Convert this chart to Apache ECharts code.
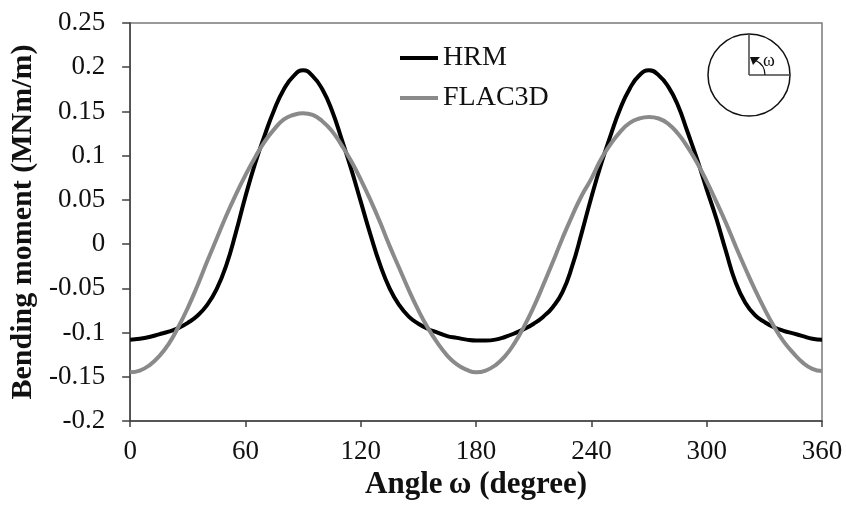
<!DOCTYPE html>
<html>
<head>
<meta charset="utf-8">
<script src="https://cdn.jsdelivr.net/npm/echarts@6/dist/echarts.min.js"></script>
<style>
  html, body { margin: 0; padding: 0; background: #fff; }
  #chart { width: 846px; height: 518px; }
</style>
</head>
<body>
<div id="chart"></div>
<script>
  // angle (degree)
  var angles = [0, 5, 10, 15, 20, 25, 30, 35, 40, 45, 50, 55, 60, 65, 70, 75, 80, 85, 90,
    95, 100, 105, 110, 115, 120, 125, 130, 135, 140, 145, 150, 155, 160, 165, 170, 175, 180,
    185, 190, 195, 200, 205, 210, 215, 220, 225, 230, 235, 240, 245, 250, 255, 260, 265, 270,
    275, 280, 285, 290, 295, 300, 305, 310, 315, 320, 325, 330, 335, 340, 345, 350, 355, 360];

  var hrm = [-0.108, -0.107, -0.105, -0.102, -0.099, -0.095, -0.089, -0.081, -0.069, -0.051,
    -0.024, 0.013, 0.054, 0.091, 0.123, 0.152, 0.175, 0.190, 0.1965,
    0.190, 0.175, 0.151, 0.119, 0.085, 0.048, 0.011, -0.023, -0.050, -0.069, -0.082, -0.090,
    -0.096, -0.100, -0.104, -0.106, -0.108, -0.109,
    -0.109, -0.108, -0.105, -0.101, -0.096, -0.090, -0.082, -0.071, -0.054, -0.025, 0.013,
    0.053, 0.090, 0.123, 0.153, 0.176, 0.191, 0.1965,
    0.191, 0.178, 0.157, 0.127, 0.096, 0.062, 0.029, -0.008, -0.043, -0.066, -0.080, -0.088,
    -0.094, -0.098, -0.101, -0.104, -0.107, -0.108];

  var flac3d = [-0.145, -0.143, -0.137, -0.127, -0.113, -0.094, -0.072, -0.047, -0.020, 0.006,
    0.032, 0.056, 0.078, 0.098, 0.116, 0.130, 0.141, 0.146, 0.148,
    0.146, 0.139, 0.128, 0.112, 0.094, 0.073, 0.050, 0.025, -0.002, -0.027, -0.052, -0.075,
    -0.095, -0.112, -0.126, -0.136, -0.142, -0.145,
    -0.143, -0.137, -0.127, -0.112, -0.093, -0.071, -0.046, -0.020, 0.007, 0.032, 0.055,
    0.074, 0.096, 0.113, 0.127, 0.137, 0.142, 0.1437,
    0.142, 0.136, 0.125, 0.110, 0.092, 0.071, 0.048, 0.024, -0.002, -0.027, -0.051, -0.073,
    -0.093, -0.110, -0.123, -0.134, -0.141, -0.1435];

  var serif = '"Liberation Serif", "Times New Roman", serif';

  function pairs(vals){
    var out = [];
    for (var i = 0; i < angles.length; i++) {
      out.push([angles[i], vals[i]]);
    }
    return out;
  }

  var myChart = echarts.init(document.getElementById("chart"), null, {renderer: 'canvas'});

  var option = {
    backgroundColor: '#fff',
    animation: false,
    grid: {
      left: 129, right: 24, top: 23, bottom: 97,
      show: true,
      borderColor: '#7a7a7a',
      borderWidth: 1.5
    },
    legend: {
      orient: 'vertical',
      left: 400,
      top: 44,
      padding: 0,
      icon: 'rect',
      itemWidth: 38,
      itemHeight: 4,
      itemGap: 12,
      textStyle: {fontFamily: serif, fontSize: 28, color: '#111', lineHeight: 28, padding: [0, 0, 0, 0]},
      data: ['HRM', 'FLAC3D']
    },
    xAxis: {
      type: 'value',
      min: 0, max: 360, interval: 60,
      name: 'Angle\u2009ω (degree)',
      nameLocation: 'middle',
      nameGap: 40,
      nameTextStyle: {fontFamily: serif, fontSize: 31, fontWeight: 'bold', color: '#111'},
      axisLine: {onZero: false, lineStyle: {color: '#404040', width: 1.5}},
      axisTick: {inside: false, length: 6, lineStyle: {color: '#404040', width: 1.5}},
      axisLabel: {fontFamily: serif, fontSize: 27, color: '#111', margin: 17},
      splitLine: {show: false}
    },
    yAxis: {
      type: 'value',
      min: -0.2, max: 0.25, interval: 0.05,
      name: 'Bending moment (MNm/m)',
      nameLocation: 'middle',
      nameRotate: 90,
      nameGap: 82,
      nameTextStyle: {fontFamily: serif, fontSize: 30, fontWeight: 'bold', color: '#111'},
      axisLine: {show: true, onZero: false, lineStyle: {color: '#404040', width: 1.5}},
      axisTick: {show: true, inside: false, length: 8, lineStyle: {color: '#404040', width: 1.5}},
      axisLabel: {
        fontFamily: serif, fontSize: 27, color: '#111', margin: 25,
        formatter: function (v) { return String(Math.round(v * 100) / 100); }
      },
      splitLine: {show: false}
    },
    series: [
      {
        name: 'HRM',
        type: 'line',
        data: pairs(hrm),
        symbol: 'none',
        smooth: 0.5,
        lineStyle: {color: '#000', width: 4},
        itemStyle: {color: '#000'}
      },
      {
        name: 'FLAC3D',
        type: 'line',
        data: pairs(flac3d),
        symbol: 'none',
        smooth: 0.5,
        lineStyle: {color: '#8a8a8a', width: 4},
        itemStyle: {color: '#8a8a8a'}
      }
    ],
    graphic: [
      // little sketch of the tunnel section with the angle
      {type: 'circle', shape: {cx: 749, cy: 75, r: 41}, style: {fill: 'none', stroke: '#111', lineWidth: 1.5}},
      {type: 'line', shape: {x1: 749, y1: 75, x2: 749, y2: 34}, style: {stroke: '#444', lineWidth: 1.5}},
      {type: 'line', shape: {x1: 749, y1: 75, x2: 790, y2: 75}, style: {stroke: '#444', lineWidth: 1.5}},
      {type: 'arc', shape: {cx: 749, cy: 75, r: 16, startAngle: -65 * Math.PI / 180, endAngle: 0, clockwise: true},
        style: {fill: 'none', stroke: '#111', lineWidth: 1.2}},
      {type: 'polygon', shape: {points: [[750, 57], [760, 57], [753, 65]]}, style: {fill: '#111'}},
      {type: 'text', x: 763, y: 61, style: {text: 'ω', fontFamily: serif, fontSize: 18, fill: '#111', verticalAlign: 'middle'}}
    ]
  };

  option && myChart.setOption(option, true);
</script>
</body>
</html>
